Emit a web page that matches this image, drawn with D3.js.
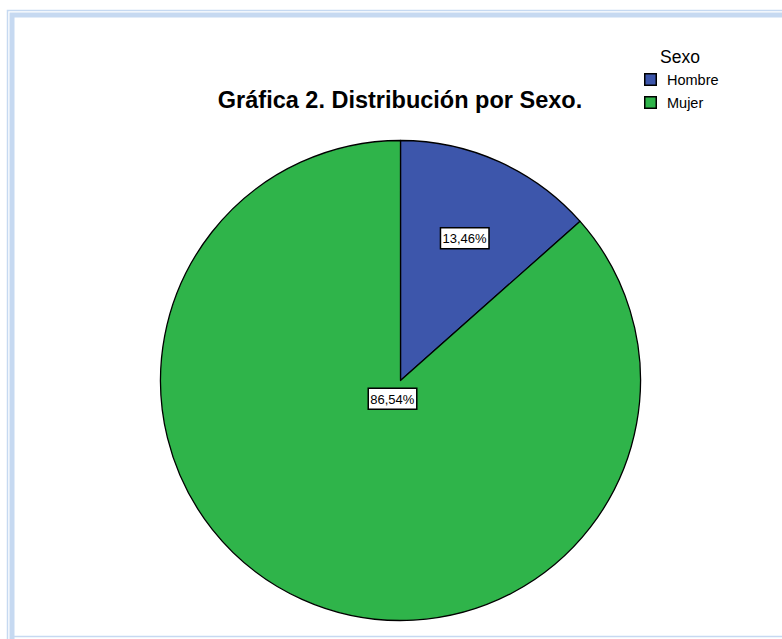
<!DOCTYPE html>
<html>
<head>
<meta charset="utf-8">
<script src="https://cdn.jsdelivr.net/npm/d3@7"></script>
<style>
  html, body { margin: 0; padding: 0; background: #ffffff; }
  svg { display: block; font-family: "Liberation Sans", Arial, sans-serif; }
</style>
</head>
<body>
<svg id="chart" width="782" height="639"></svg>
<script>
// Distribución por sexo
const categories = ["Hombre", "Mujer"];
const percents = [13.46, 86.54];
const colors = ["#3d56ab", "#2fb44a"];
const legendTitle = "Sexo";
const chartTitle = "Gráfica 2. Distribución por Sexo.";

const svg = d3.select("#chart");
const W = 782, H = 639;

// Light blue double frame
const frame = "#c6d9f1";
svg.append("path")
  .attr("d", `M7.5,${H} V10.5 H${W}`)
  .attr("fill", "none").attr("stroke", frame).attr("stroke-width", 1.5);
svg.append("path")
  .attr("d", `M12,${H} V15 H${W}`)
  .attr("fill", "none").attr("stroke", frame).attr("stroke-width", 5);
svg.append("line")
  .attr("x1", 12).attr("x2", W).attr("y1", 636.5).attr("y2", 636.5)
  .attr("stroke", frame).attr("stroke-width", 1.5);

// Title
svg.append("text")
  .attr("x", 400).attr("y", 108)
  .attr("text-anchor", "middle")
  .attr("font-size", 23.5).attr("font-weight", "bold")
  .attr("fill", "#000")
  .text(chartTitle);

// Legend
const legend = svg.append("g");
legend.append("text")
  .attr("x", 680).attr("y", 63)
  .attr("text-anchor", "middle")
  .attr("font-size", 17.5).attr("fill", "#000")
  .text(legendTitle);
const items = legend.selectAll("g.item").data(categories).join("g")
  .attr("class", "item")
  .attr("transform", (d, i) => `translate(644,${73 + i * 23})`);
items.append("rect")
  .attr("x", 0.75).attr("y", 0.75).attr("width", 11.5).attr("height", 11.5)
  .attr("fill", (d, i) => colors[i])
  .attr("stroke", "#000").attr("stroke-width", 1.5);
items.append("text")
  .attr("x", 23).attr("y", 11.5)
  .attr("font-size", 14.5).attr("fill", "#000")
  .text(d => d);

// Pie
const cx = 400.5, cy = 380.5, R = 240;
const pie = d3.pie().sort(null).value(d => d.v);
const data = categories.map((c, i) => ({ c, v: percents[i], col: colors[i] }));
const arcs = pie(data);
const arc = d3.arc().innerRadius(0).outerRadius(R);

const g = svg.append("g").attr("transform", `translate(${cx},${cy})`);
g.selectAll("path.slice").data(arcs).join("path")
  .attr("class", "slice")
  .attr("d", arc)
  .attr("fill", d => d.data.col)
  .attr("stroke", "#000").attr("stroke-width", 1.3)
  .attr("stroke-linejoin", "round");

// Value labels in boxes
const fmt = v => v.toFixed(2).replace(".", ",") + "%";
const labelRadius = [156, 20];
const labels = g.selectAll("g.lab").data(arcs).join("g")
  .attr("class", "lab")
  .attr("transform", (d, i) => {
    const a = (d.startAngle + d.endAngle) / 2;
    const r = labelRadius[i];
    return `translate(${r * Math.sin(a)},${-r * Math.cos(a)})`;
  });
labels.each(function(d) {
  const sel = d3.select(this);
  const t = sel.append("text")
    .attr("text-anchor", "middle")
    .attr("y", 5)
    .attr("font-size", 13).attr("fill", "#000")
    .text(fmt(d.data.v));
  const bb = t.node().getBBox();
  sel.insert("rect", "text")
    .attr("x", bb.x - 2).attr("y", -10.5)
    .attr("width", bb.width + 4).attr("height", 21)
    .attr("fill", "#fff").attr("stroke", "#000").attr("stroke-width", 1.5);
});
</script>
</body>
</html>
